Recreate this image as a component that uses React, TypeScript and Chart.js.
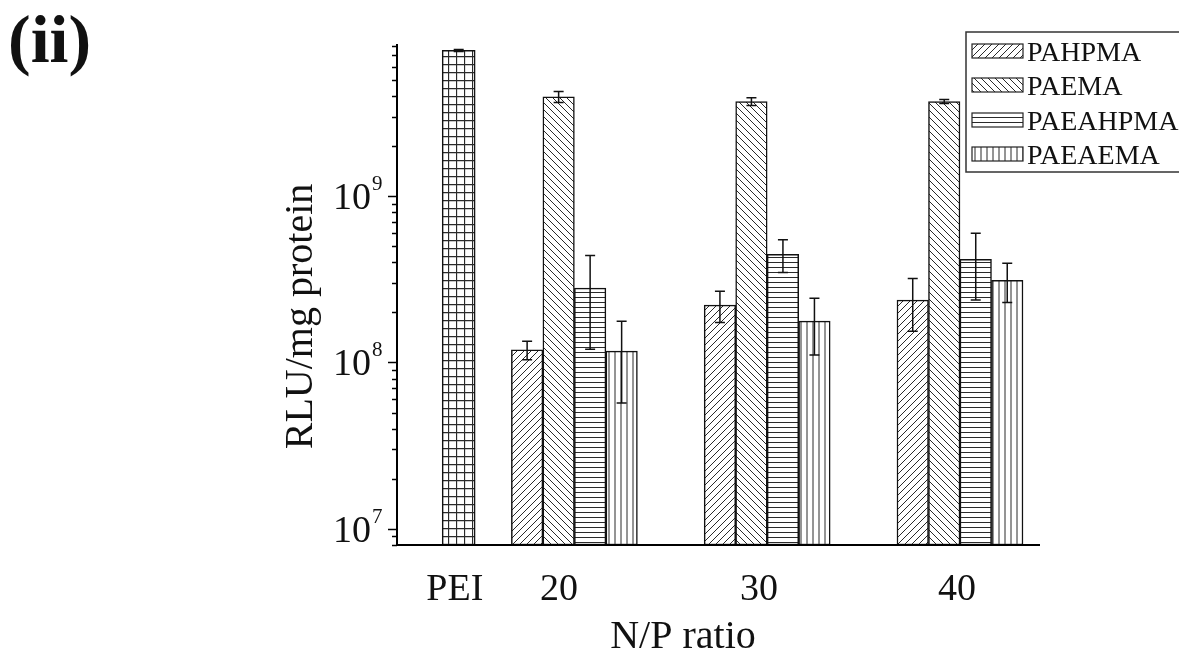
import React, { useEffect, useRef } from 'react';
import { Chart, registerables } from 'chart.js';

Chart.register(...registerables);

// ---------- DATA ----------
const categories = ['PEI', '20', '30', '40'];
const seriesNames = ['PAHPMA', 'PAEMA', 'PAEAHPMA', 'PAEAEMA'];
const peiValue = 7.5e9;
const peiError = 0.1e9;
const pahpmaValues = [1.19e8, 2.21e8, 2.37e8];
const pahpmaErrors = [0.15e8, 0.47e8, 0.83e8];
const paemaValues = [3.95e9, 3.7e9, 3.7e9];
const paemaErrors = [0.3e9, 0.2e9, 0.1e9];
const paeahpmaValues = [2.8e8, 4.47e8, 4.17e8];
const paeahpmaErrors = [1.6e8, 1.0e8, 1.8e8];
const paeaemaValues = [1.17e8, 1.77e8, 3.12e8];
const paeaemaErrors = [0.6e8, 0.66e8, 0.83e8];
const yMajorTicks = [1e7, 1e8, 1e9];
const yTickExponents = ['7', '8', '9'];
const xAxisTitle = 'N/P ratio';
const yAxisTitle = 'RLU/mg protein';
const panelLabel = '(ii)';

// ---------- LAYOUT ----------
const Y_MIN = 8e6;
const Y_MAX = 8.2e9;
const X_MIN = 0.08;
const X_MAX = 3.415;
const PEI_POS = 0.4;
const GROUP_POS = [1, 2, 3];
const BAR_UNITS = 0.1634;
const LABEL_POS = [0.38, 0.92, 1.958, 2.984];
const FONT = '"Liberation Serif", "Times New Roman", serif';

type PatternKind = 'grid' | 'up' | 'down' | 'horiz' | 'vert';

function makePattern(kind: PatternKind): CanvasPattern | string {
  const size = kind === 'grid' ? 8 : kind === 'horiz' ? 5 : kind === 'vert' ? 6 : 7;
  const c = document.createElement('canvas');
  c.width = size;
  c.height = size;
  const g = c.getContext('2d');
  if (!g) return '#fff';
  g.fillStyle = '#ffffff';
  g.fillRect(0, 0, size, size);
  g.strokeStyle = '#2a2a2a';
  g.lineWidth = 1;
  g.beginPath();
  if (kind === 'grid') {
    g.lineWidth = 1.3;
    g.moveTo(0.5, 0);
    g.lineTo(0.5, size);
    g.moveTo(0, 0.5);
    g.lineTo(size, 0.5);
  } else if (kind === 'up') {
    g.moveTo(0, size);
    g.lineTo(size, 0);
    g.moveTo(-1, 1);
    g.lineTo(1, -1);
    g.moveTo(size - 1, size + 1);
    g.lineTo(size + 1, size - 1);
  } else if (kind === 'down') {
    g.moveTo(0, 0);
    g.lineTo(size, size);
    g.moveTo(-1, size - 1);
    g.lineTo(1, size + 1);
    g.moveTo(size - 1, -1);
    g.lineTo(size + 1, 1);
  } else if (kind === 'horiz') {
    g.moveTo(0, 2.5);
    g.lineTo(size, 2.5);
  } else {
    g.moveTo(3, 0);
    g.lineTo(3, size);
  }
  g.stroke();
  const ctx = document.createElement('canvas').getContext('2d');
  const p = ctx ? ctx.createPattern(c, 'repeat') : null;
  return p || '#fff';
}

export default function App() {
  const canvasRef = useRef<HTMLCanvasElement | null>(null);

  useEffect(() => {
    const canvas = canvasRef.current;
    if (!canvas) return;

    const seriesValues = [pahpmaValues, paemaValues, paeahpmaValues, paeaemaValues];
    const seriesErrors = [pahpmaErrors, paemaErrors, paeahpmaErrors, paeaemaErrors];
    const seriesKinds: PatternKind[] = ['up', 'down', 'horiz', 'vert'];
    const seriesPatterns = seriesKinds.map((k) => makePattern(k));
    const peiPattern = makePattern('grid');

    const datasets: any[] = [
      {
        label: categories[0],
        data: [{ x: PEI_POS, y: peiValue }],
        errors: [peiError],
        backgroundColor: peiPattern,
        borderColor: '#111',
        borderWidth: 1.5,
        borderSkipped: false,
        grouped: false,
        barThickness: 33,
      },
      ...seriesNames.map((name, i) => ({
        label: name,
        data: GROUP_POS.map((gp, j) => ({ x: gp + (i - 1.5) * BAR_UNITS, y: seriesValues[i][j] })),
        errors: seriesErrors[i],
        backgroundColor: seriesPatterns[i],
        borderColor: '#111',
        borderWidth: 1.5,
        borderSkipped: false,
        grouped: false,
        barThickness: 31.5,
      })),
    ];

    const decorPlugin = {
      id: 'decor',
      afterDatasetsDraw(chart: any) {
        const ctx = chart.ctx as CanvasRenderingContext2D;
        const ys = chart.scales.y;
        ctx.save();
        ctx.strokeStyle = '#111';
        ctx.lineWidth = 1.5;
        chart.data.datasets.forEach((ds: any, di: number) => {
          const meta = chart.getDatasetMeta(di);
          meta.data.forEach((el: any, j: number) => {
            const v = ds.data[j].y;
            const e = ds.errors[j];
            const top = ys.getPixelForValue(v + e);
            const bot = ys.getPixelForValue(Math.max(v - e, Y_MIN));
            const x = el.x;
            const cap = 5;
            ctx.beginPath();
            ctx.moveTo(x, top);
            ctx.lineTo(x, bot);
            ctx.moveTo(x - cap, top);
            ctx.lineTo(x + cap, top);
            ctx.moveTo(x - cap, bot);
            ctx.lineTo(x + cap, bot);
            ctx.stroke();
          });
        });
        ctx.restore();
      },
      afterDraw(chart: any) {
        const ctx = chart.ctx as CanvasRenderingContext2D;
        const area = chart.chartArea;
        const ys = chart.scales.y;
        const xs = chart.scales.x;
        ctx.save();
        // axes
        ctx.strokeStyle = '#000';
        ctx.lineWidth = 2;
        ctx.beginPath();
        ctx.moveTo(area.left, area.top);
        ctx.lineTo(area.left, area.bottom);
        ctx.lineTo(area.right, area.bottom);
        ctx.stroke();
        // y ticks
        ctx.lineWidth = 1.5;
        for (let ex = 6; ex <= 9; ex++) {
          for (let s = 1; s <= 9; s++) {
            const v = s * Math.pow(10, ex);
            if (v < Y_MIN * 0.999 || v > Y_MAX * 1.001) continue;
            const y = Math.round(ys.getPixelForValue(v)) + 0.5;
            const len = s === 1 ? 9 : 5;
            ctx.beginPath();
            ctx.moveTo(area.left, y);
            ctx.lineTo(area.left - len, y);
            ctx.stroke();
          }
        }
        // y tick labels
        ctx.fillStyle = '#111';
        ctx.textBaseline = 'alphabetic';
        yMajorTicks.forEach((v, i) => {
          const y = ys.getPixelForValue(v);
          ctx.font = `38px ${FONT}`;
          ctx.textAlign = 'right';
          ctx.fillText('10', area.left - 26, y + 13);
          ctx.font = `21px ${FONT}`;
          ctx.textAlign = 'left';
          ctx.fillText(yTickExponents[i], area.left - 25, y - 6);
        });
        // x tick labels
        ctx.font = `38px ${FONT}`;
        ctx.textAlign = 'center';
        categories.forEach((c, i) => {
          ctx.fillText(c, xs.getPixelForValue(LABEL_POS[i]), 600);
        });
        // x title
        ctx.font = `40px ${FONT}`;
        ctx.fillText(xAxisTitle, 683, 648);
        // y title
        ctx.save();
        ctx.translate(312, (area.top + area.bottom) / 2 + 22);
        ctx.rotate(-Math.PI / 2);
        ctx.textAlign = 'center';
        ctx.fillText(yAxisTitle, 0, 0);
        ctx.restore();
        // panel label
        ctx.font = `bold 68px ${FONT}`;
        ctx.textAlign = 'left';
        ctx.fillText(panelLabel, 8, 62);
        // legend
        const lx = 966;
        const ly = 32;
        const lh = 140;
        ctx.strokeStyle = '#333';
        ctx.lineWidth = 1.5;
        ctx.strokeRect(lx, ly, 260, lh);
        const rowC = [51, 85, 120, 154];
        seriesNames.forEach((name, i) => {
          const cy = rowC[i];
          ctx.fillStyle = seriesPatterns[i] as any;
          ctx.fillRect(972, cy - 7, 51, 14);
          ctx.strokeStyle = '#222';
          ctx.lineWidth = 1.2;
          ctx.strokeRect(972, cy - 7, 51, 14);
          ctx.fillStyle = '#111';
          ctx.font = `28px ${FONT}`;
          ctx.textAlign = 'left';
          ctx.fillText(name, 1027, cy + 10);
        });
        ctx.restore();
      },
    };

    const chart = new Chart(canvas, {
      type: 'bar',
      data: { datasets },
      options: {
        responsive: false,
        animation: false,
        devicePixelRatio: 1,
        layout: { padding: { left: 397, top: 44, right: 139, bottom: 110 } },
        plugins: {
          legend: { display: false },
          tooltip: { enabled: false },
          title: { display: false },
        },
        scales: {
          x: { type: 'linear', display: false, offset: false, min: X_MIN, max: X_MAX },
          y: { type: 'logarithmic', display: false, min: Y_MIN, max: Y_MAX },
        },
      } as any,
      plugins: [decorPlugin],
    });

    return () => chart.destroy();
  }, []);

  return (
    <div style={{ position: 'fixed', left: 0, top: 0, width: 1179, height: 655, background: '#fff' }}>
      <canvas ref={canvasRef} width={1179} height={655} />
    </div>
  );
}
